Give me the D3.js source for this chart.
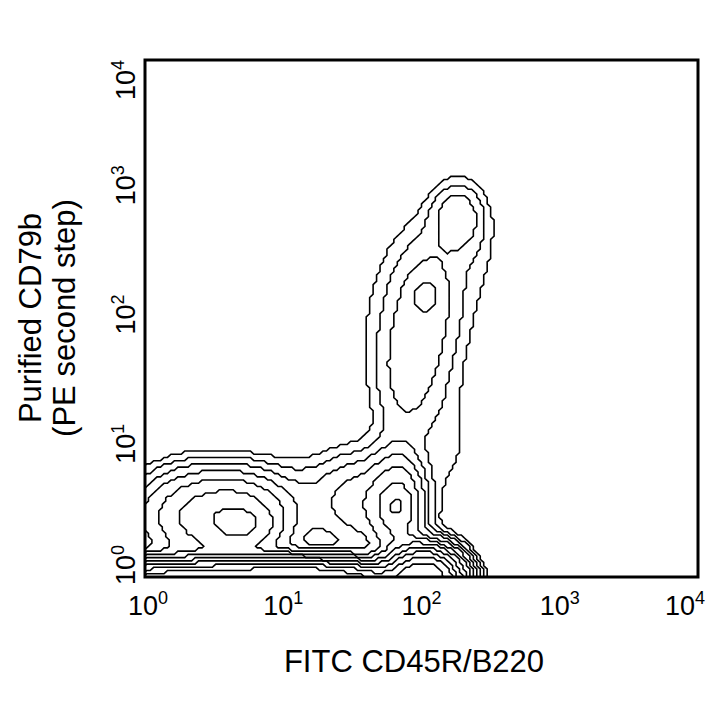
<!DOCTYPE html>
<html>
<head>
<meta charset="utf-8">
<script src="https://cdn.jsdelivr.net/npm/d3@7/dist/d3.min.js"></script>
<style>
  html, body { margin: 0; padding: 0; background: #fff; }
  svg { display: block; font-family: "Liberation Sans", Arial, sans-serif; }
</style>
</head>
<body>
<svg id="chart" width="720" height="720"></svg>
<script>
// ---- Data (log10 units of the fluorescence axes) ----
// Cell populations: centre (log10 FITC, log10 PE), spread, relative density
const popNames = ["leftPlateauA", "leftPlateauB", "leftPeak", "bridge", "midShoulder", "midCore", "midPeak",
                  "axisLeft", "axisMid", "axisRight", "columnLow", "columnUpper", "columnPeak",
                  "topPeak", "columnHalo", "topHalo", "rightSpread"];
const popX  = [0.40, 0.70, 0.72, 1.20, 1.55, 1.82, 1.81, 0.40, 1.20, 2.00, 1.88, 2.02, 2.02, 2.25, 1.93, 2.35, 2.22];
const popY  = [0.45, 0.43, 0.38, 0.60, 0.55, 0.52, 0.53, -0.10, -0.10, -0.05, 1.50, 2.10, 2.18, 2.78, 2.00, 2.55, 0.90];
const popSX = [0.30, 0.22, 0.13, 0.30, 0.20, 0.12, 0.06, 0.50, 0.35, 0.14, 0.16, 0.16, 0.07, 0.12, 0.35, 0.20, 0.14];
const popSY = [0.23, 0.20, 0.09, 0.25, 0.24, 0.24, 0.07, 0.10, 0.10, 0.13, 0.35, 0.35, 0.07, 0.17, 0.60, 0.35, 0.40];
const popW  = [110, 90, 45, 15, 45, 120, 40, 2700, 2700, 2000, 22, 22, 15, 30, 12, 8, 8];
// contour levels (log spaced, factor 1.6)
const levels = [10, 16, 25.6, 41, 65.5, 105, 168, 268, 429, 687, 1100];
// axis ticks
const tickExp = [0, 1, 2, 3, 4];
const xTitle = "FITC CD45R/B220";
const yTitle = ["Purified CD79b", "(PE second step)"];

// ---- Layout ----
const svg = d3.select("#chart");
const x = d3.scaleLog().domain([1, 1e4]).range([145, 698]);
const y = d3.scaleLog().domain([1, 1e4]).range([577, 60]);

// density grid in log space
const cell = 4 / 160;
const lx0 = 0, ly0 = -0.6;
const nx = 161, ny = Math.ceil((4 - ly0) / cell) + 1;
const values = new Float64Array(nx * ny);
for (let j = 0; j < ny; j++) {
  const ly = ly0 + j * cell;
  for (let i = 0; i < nx; i++) {
    const lx = lx0 + i * cell;
    let v = 0;
    for (let k = 0; k < popX.length; k++) {
      const dx = (lx - popX[k]) / popSX[k], dy = (ly - popY[k]) / popSY[k];
      v += popW[k] * Math.exp(-0.5 * (dx * dx + dy * dy));
    }
    values[i + j * nx] = v;
  }
}
const contours = d3.contours().size([nx, ny]).smooth(false).thresholds(levels)(values);
const proj = d3.geoTransform({
  point(px, py) {
    this.stream.point(x(Math.pow(10, lx0 + px * cell)), y(Math.pow(10, ly0 + py * cell)));
  }
});
const path = d3.geoPath(proj);

svg.append("clipPath").attr("id", "plotclip")
  .append("rect").attr("x", 145).attr("y", 60).attr("width", 553).attr("height", 517);

svg.append("g").attr("clip-path", "url(#plotclip)")
  .selectAll("path").data(contours).join("path")
  .attr("d", path)
  .attr("fill", "none")
  .attr("stroke", "#000")
  .attr("stroke-width", 1.6)
  .attr("stroke-linejoin", "miter");

// frame
svg.append("rect").attr("x", 145).attr("y", 60).attr("width", 553).attr("height", 517)
  .attr("fill", "none").attr("stroke", "#000").attr("stroke-width", 3);

// tick labels
function tickLabel(sel, e) {
  sel.append("tspan").text("10");
  sel.append("tspan").attr("dy", -11).attr("font-size", 18).text(e);
}
svg.append("g").selectAll("text").data(tickExp).join("text")
  .attr("x", d => Math.max(148, Math.min(685, x(Math.pow(10, d)))))
  .attr("y", 615)
  .attr("text-anchor", "middle")
  .attr("font-size", 27)
  .each(function(d) { tickLabel(d3.select(this), d); });

svg.append("g").selectAll("text").data(tickExp).join("text")
  .attr("transform", d => `translate(135,${Math.max(80, Math.min(565, y(Math.pow(10, d)) - 4))}) rotate(-90)`)
  .attr("text-anchor", "middle")
  .attr("font-size", 27)
  .each(function(d) { tickLabel(d3.select(this), d); });

// titles
svg.append("text").attr("x", 414).attr("y", 672).attr("text-anchor", "middle")
  .attr("font-size", 31).text(xTitle);
svg.append("g").selectAll("text").data(yTitle).join("text")
  .attr("transform", (d, i) => `translate(${41 + i * 34},318) rotate(-90)`)
  .attr("text-anchor", "middle")
  .attr("font-size", 31).text(d => d);
</script>
</body>
</html>
